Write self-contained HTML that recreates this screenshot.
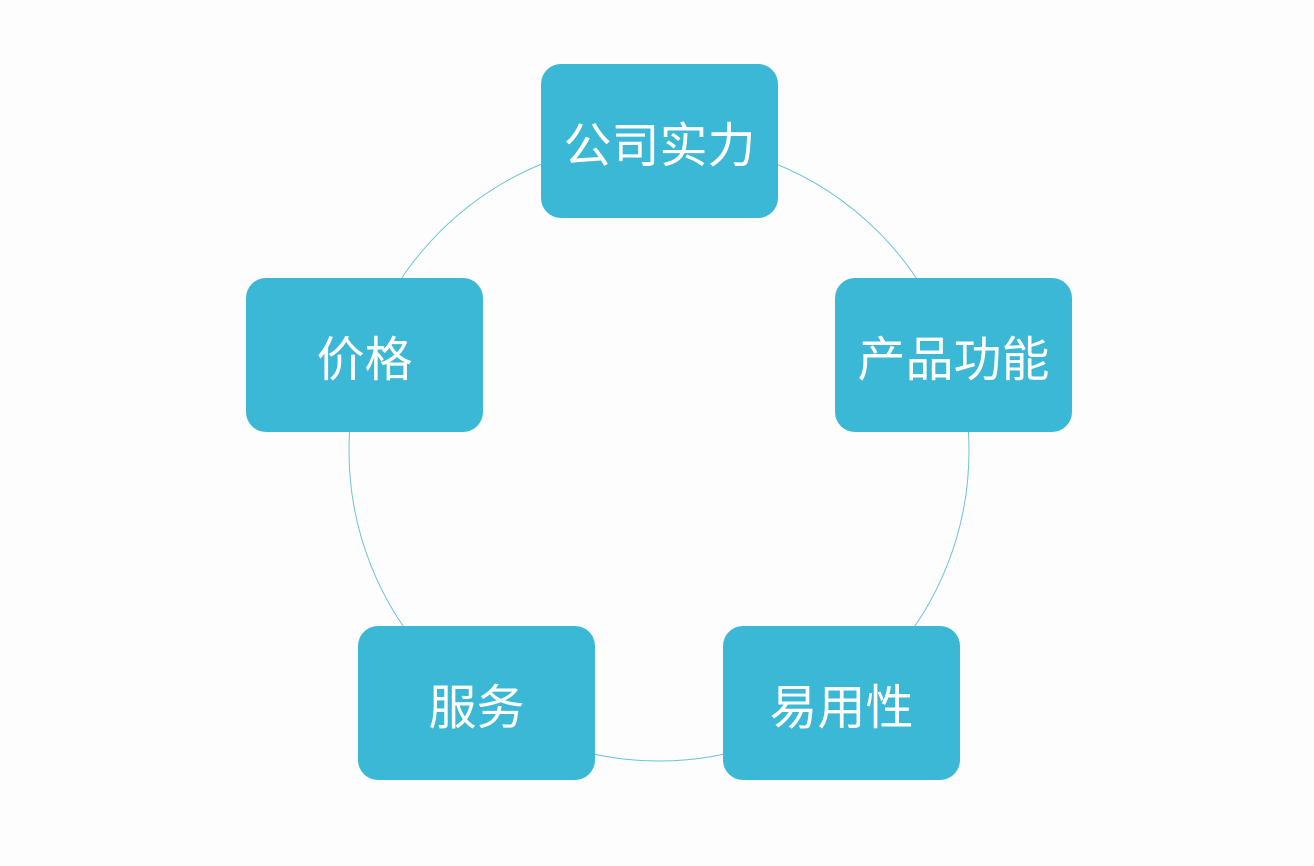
<!DOCTYPE html>
<html><head><meta charset="utf-8"><style>
body{margin:0;width:1314px;height:866px;background:#fdfdfd;position:relative;overflow:hidden;font-family:"Liberation Sans","Noto Sans CJK SC",sans-serif}
.b{position:absolute;width:237px;height:154px;background:#3bb8d5;border-radius:20px;color:#fff;font-size:48px;display:flex;align-items:center;justify-content:center}
svg{position:absolute;left:0;top:0}
</style></head><body>
<svg width="1314" height="866"><circle cx="659" cy="451" r="310" fill="none" stroke="#6cc4dc" stroke-width="1"/></svg>
<div class="b" style="left:541px;top:64px">公司实力</div>
<div class="b" style="left:246px;top:278px">价格</div>
<div class="b" style="left:835px;top:278px">产品功能</div>
<div class="b" style="left:358px;top:626px">服务</div>
<div class="b" style="left:723px;top:626px">易用性</div>
</body></html>
